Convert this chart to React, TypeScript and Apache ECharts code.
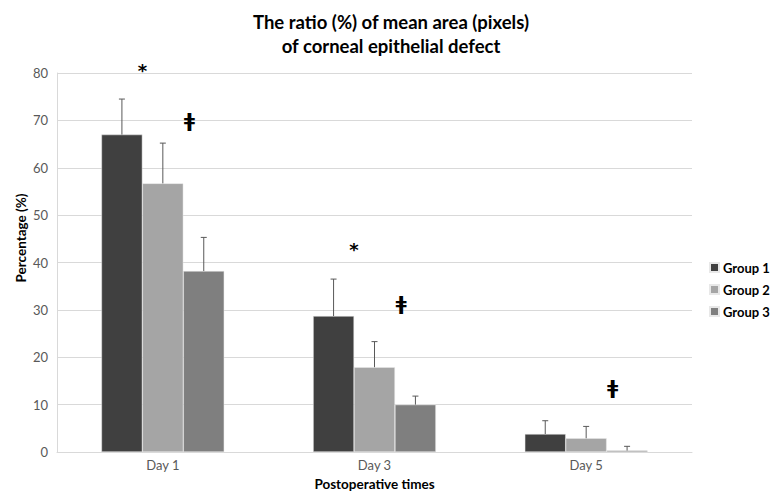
import React, { useEffect, useRef } from "react";
import * as echarts from "echarts";

const categories = ["Day 1", "Day 3", "Day 5"];
const groupNames = ["Group 1", "Group 2", "Group 3"];
const group1 = [67, 28.7, 3.8];
const group2 = [56.7, 17.9, 2.9];
const group3 = [38.2, 10, 0.3];
const sd1 = [7.5, 7.8, 2.8];
const sd2 = [8.5, 5.4, 2.5];
const sd3 = [7.1, 1.8, 0.9];
const starCats = ["Day 1", "Day 3"];
const starValues = [80.5, 42.8];
const daggerCats = ["Day 1", "Day 3", "Day 5"];
const daggerValues = [70, 31.5, 13.8];
const yTicks = [0, 10, 20, 30, 40, 50, 60, 70, 80];

const colors = ["#404040", "#a5a5a5", "#7f7f7f"];
const FONT = "Lato, 'Open Sans', sans-serif";
const SYM_FONT = "'DejaVu Sans', sans-serif";
const CAT_GAP = 0.42;

export default function App() {
  const ref = useRef<HTMLDivElement>(null);
  useEffect(() => {
    document.body.style.margin = "0";
    if (!ref.current) return;
    const chart = echarts.init(ref.current, undefined, { renderer: "svg" });
    const values = [group1, group2, group3];
    const sds = [sd1, sd2, sd3];

    const errorSeries = values.map((vals, g) => ({
      type: "custom",
      name: "err" + g,
      z: 5,
      encode: { x: 0, y: 1 },
      data: vals.map((v, i) => [i, v, sds[g][i]]),
      renderItem: (params: any, api: any) => {
        const ci = api.value(0);
        const v = api.value(1);
        const sd = api.value(2);
        const base = api.coord([ci, v]);
        const top = api.coord([ci, v + sd]);
        const band = api.size([1, 0])[0];
        const bw = (band * (1 - CAT_GAP)) / 3;
        const x = base[0] + (g - 1) * bw;
        const st = { stroke: "#595959", lineWidth: 1 };
        return {
          type: "group",
          children: [
            { type: "line", shape: { x1: x, y1: base[1], x2: x, y2: top[1] }, style: st },
            { type: "line", shape: { x1: x - 3, y1: top[1], x2: x + 3, y2: top[1] }, style: st },
          ],
        };
      },
    }));

    const makeAnno = (cats: string[], vals: number[], sym: string, offBars: number, size: number) => ({
      type: "custom",
      name: "anno" + sym,
      z: 6,
      encode: { x: 0, y: 1 },
      data: cats.map((c, i) => [categories.indexOf(c), vals[i]]),
      renderItem: (params: any, api: any) => {
        const p = api.coord([api.value(0), api.value(1)]);
        const band = api.size([1, 0])[0];
        const bw = (band * (1 - CAT_GAP)) / 3;
        return {
          type: "text",
          x: p[0] + offBars * bw,
          y: p[1],
          style: {
            text: sym,
            fill: "#000",
            font: `bold ${size}px ${SYM_FONT}`,
            align: "center",
            verticalAlign: "middle",
          },
        };
      },
    });

    chart.setOption({
      animation: false,
      backgroundColor: "#fff",
      title: {
        text: "The ratio (%) of mean area (pixels)\nof corneal epithelial defect",
        left: 391,
        textAlign: "center",
        top: 10,
        padding: 0,
        textStyle: { fontFamily: FONT, fontWeight: "bold", fontSize: 18.5, color: "#000", lineHeight: 24 },
      },
      legend: {
        data: groupNames,
        orient: "vertical",
        left: 704,
        top: 256,
        itemWidth: 9,
        itemHeight: 9,
        itemGap: 9,
        icon: "rect",
        textStyle: { fontFamily: FONT, fontWeight: "bold", fontSize: 13, color: "#000", padding: [0, 0, 0, -1] },
      },
      grid: { left: 57, right: 80, top: 73, bottom: 41 },
      xAxis: {
        type: "category",
        data: categories,
        axisLine: { lineStyle: { color: "#d9d9d9" } },
        axisTick: { show: false },
        axisLabel: { fontFamily: FONT, fontSize: 13, color: "#595959", margin: 6 },
        name: "Postoperative times",
        nameLocation: "middle",
        nameGap: 25,
        nameTextStyle: { fontFamily: FONT, fontWeight: "bold", fontSize: 13.5, color: "#000" },
      },
      yAxis: {
        type: "value",
        min: yTicks[0],
        max: yTicks[yTicks.length - 1],
        interval: 10,
        axisLine: { show: true, lineStyle: { color: "#d9d9d9" } },
        axisTick: { show: false },
        splitLine: { lineStyle: { color: "#d9d9d9" } },
        axisLabel: { fontFamily: FONT, fontSize: 13, color: "#595959", margin: 9 },
      },
      graphic: [
        {
          type: "text",
          x: 21,
          y: 238,
          rotation: Math.PI / 2,
          style: {
            text: "Percentage (%)",
            font: `bold 13.5px ${FONT}`,
            fill: "#000",
            align: "center",
            verticalAlign: "middle",
          },
        },
      ],
      series: [
        ...values.map((vals, g) => ({
          type: "bar",
          name: groupNames[g],
          data: vals,
          barGap: "0%",
          barCategoryGap: CAT_GAP * 100 + "%",
          itemStyle: { color: colors[g], borderColor: "#e8e8e8", borderWidth: 0.5 },
        })),
        ...errorSeries,
        makeAnno(starCats, starValues, "*", -0.5, 18),
        makeAnno(daggerCats, daggerValues, "ǂ", 0.65, 20),
      ],
    } as any);
    return () => chart.dispose();
  }, []);
  return <div ref={ref} style={{ width: 772, height: 496 }} />;
}
